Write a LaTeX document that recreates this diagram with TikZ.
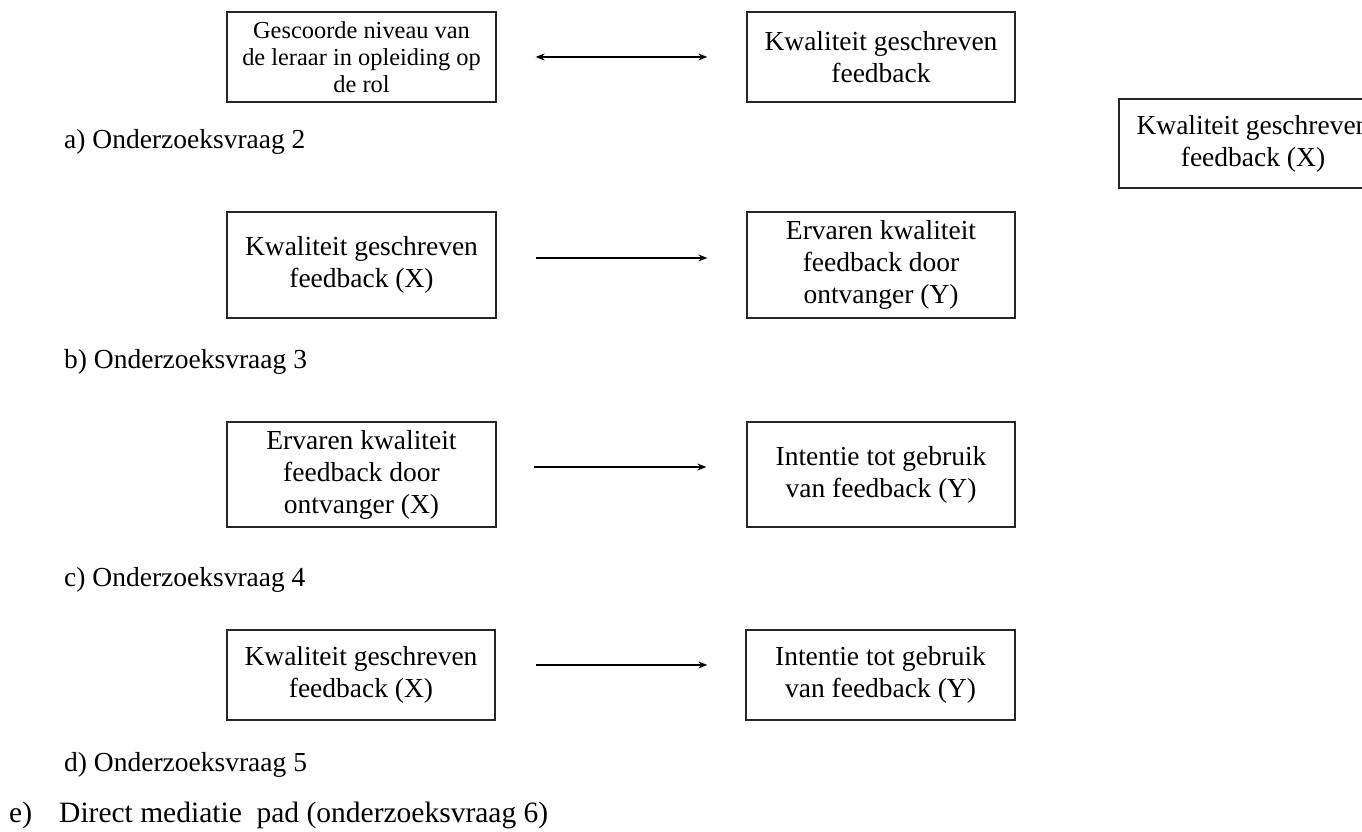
\documentclass[tikz,border=0pt]{standalone}
\usepackage{fontspec}
\setmainfont{Liberation Serif}
\usetikzlibrary{arrows.meta}
\tikzset{
  box/.style={draw=black!85, line width=1.3pt, inner sep=0pt, align=center,
    font=\fontsize{27.5}{32}\selectfont},
  smallbox/.style={box, font=\fontsize{24.4}{27}\selectfont},
  lbl/.style={anchor=base west, inner sep=0pt, font=\fontsize{27.5}{31}\selectfont},
  conn/.style={line width=1.2pt, -{Stealth[length=9pt,width=7pt]}},
  bconn/.style={line width=1.2pt, {Stealth[length=9pt,width=7pt]}-{Stealth[length=9pt,width=7pt]}}
}
\begin{document}
\begin{tikzpicture}[x=1pt,y=-1pt]
\useasboundingbox (0,0) rectangle (1362,832);
\clip (0,0) rectangle (1362,832);
% row a
\node[smallbox, minimum width=269pt, minimum height=90pt] (a1) at (361.5,57) {Gescoorde niveau van\\de leraar in opleiding op\\de rol};
\node[box, minimum width=268pt, minimum height=90pt] (a2) at (881,57) {Kwaliteit geschreven\\feedback};
\draw[bconn, shorten <=39pt, shorten >=39pt] (a1.east) -- (a2.west);
\node[lbl] (la) at (64,148) {a) Onderzoeksvraag 2};
% right clipped box
\node[box, minimum width=268pt, minimum height=89pt] (r1) at (1253,143.5) {Kwaliteit geschreven\\feedback (X)};
% row b
\node[box, minimum width=269pt, minimum height=106pt] (b1) at (361.5,265) {Kwaliteit geschreven\\feedback (X)};
\node[box, minimum width=268pt, minimum height=106pt] (b2) at (881,265) {Ervaren kwaliteit\\feedback door\\ontvanger (Y)};
\draw[conn, shorten <=39pt, shorten >=39pt] ([yshift=7pt]b1.east) -- ([yshift=7pt]b2.west);
\node[lbl] (lb) at (64,368) {b) Onderzoeksvraag 3};
% row c
\node[box, minimum width=269pt, minimum height=105pt] (c1) at (361.5,474.5) {Ervaren kwaliteit\\feedback door\\ontvanger (X)};
\node[box, minimum width=268pt, minimum height=105pt] (c2) at (881,474.5) {Intentie tot gebruik\\van feedback (Y)};
\draw[conn, shorten <=37pt, shorten >=40pt] ([yshift=7.5pt]c1.east) -- ([yshift=7.5pt]c2.west);
\node[lbl] (lc) at (64,586) {c) Onderzoeksvraag 4};
% row d
\node[box, minimum width=268pt, minimum height=90pt] (d1) at (361,675) {Kwaliteit geschreven\\feedback (X)};
\node[box, minimum width=269pt, minimum height=90pt] (d2) at (880.5,675) {Intentie tot gebruik\\van feedback (Y)};
\draw[conn, shorten <=40pt, shorten >=38pt] ([yshift=10pt]d1.east) -- ([yshift=10pt]d2.west);
\node[lbl] (ld) at (64,771) {d) Onderzoeksvraag 5};
% e
\node[anchor=base west, inner sep=0pt, font=\fontsize{29.5}{34}\selectfont] (le1) at (9,822) {e)};
\node[anchor=base west, inner sep=0pt, font=\fontsize{29.5}{34}\selectfont] (le2) at (59,822) {Direct mediatie\ \ pad (onderzoeksvraag 6)};
\end{tikzpicture}
\end{document}
